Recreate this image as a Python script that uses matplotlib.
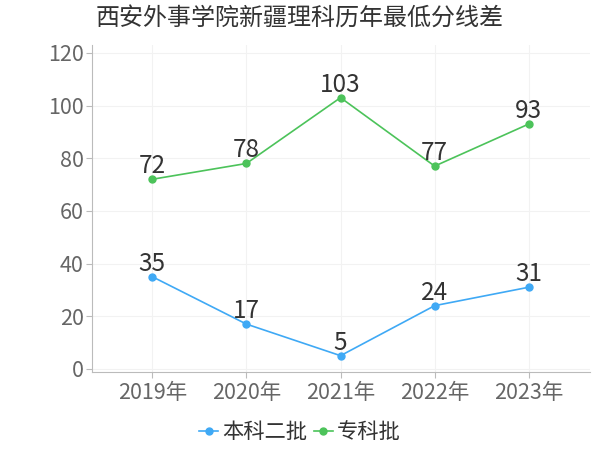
import matplotlib.pyplot as plt

plt.rcParams['font.family'] = ['Noto Sans CJK SC', 'DejaVu Sans']

years = ['2019年', '2020年', '2021年', '2022年', '2023年']
benke = [35, 17, 5, 24, 31]
zhuanke = [72, 78, 103, 77, 93]

fig = plt.figure(figsize=(6, 4.5), dpi=100)
ax = fig.add_axes([92 / 600, 1 - 372 / 450, (590 - 92) / 600, (372 - 45) / 450])

x = range(len(years))
ax.plot(x, benke, color='#3fa9f5', marker='o', markersize=5, linewidth=1.2, label='本科二批')
ax.plot(x, zhuanke, color='#4cc35a', marker='o', markersize=5, linewidth=1.2, label='专科批')

for xi, v in zip(x, benke):
    ax.annotate(str(v), (xi, v), xytext=(0, 0), textcoords='offset points',
                ha='center', va='bottom', fontsize=17.5, color='#333333')
for xi, v in zip(x, zhuanke):
    ax.annotate(str(v), (xi, v), xytext=(0, 0), textcoords='offset points',
                ha='center', va='bottom', fontsize=17.5, color='#333333')

ax.set_xlim(-0.64, 4.65)
ax.set_ylim(-1.2, 123)
ax.set_yticks([0, 20, 40, 60, 80, 100, 120])
ax.set_xticks(list(x))
ax.set_xticklabels(years)
ax.tick_params(axis='both', labelsize=15.5, colors='#666666', length=4, color='#bbbbbb')
ax.tick_params(axis='x', pad=3)
ax.tick_params(axis='y', pad=2)

ax.grid(True, color='#f2f2f2', linewidth=0.8)
ax.set_axisbelow(True)
for s in ['top', 'right']:
    ax.spines[s].set_visible(False)
ax.spines['left'].set_color('#bbbbbb')
ax.spines['bottom'].set_color('#bbbbbb')

fig.text(96 / 600, 1 - 18 / 450, '西安外事学院新疆理科历年最低分线差', fontsize=17.3,
         color='#333333', ha='left', va='center')

fig.legend(loc='center', bbox_to_anchor=(0.5, 1 - 432 / 450), ncol=2, frameon=False,
           fontsize=15.3, handlelength=0.9, handletextpad=0.2, columnspacing=0.3,
           labelcolor='#333333')

fig.savefig('out.png', dpi=100)
